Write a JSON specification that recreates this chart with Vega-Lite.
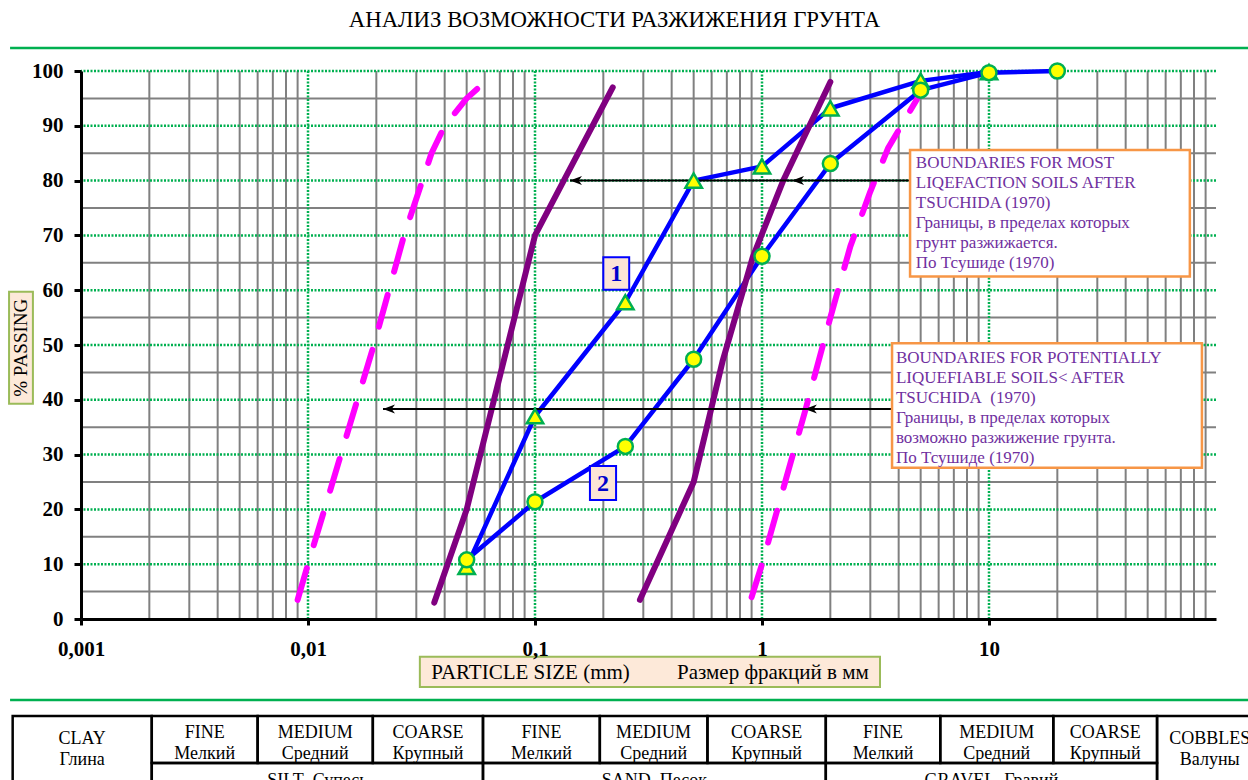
{
  "$schema": "https://vega.github.io/schema/vega-lite/v6.json",
  "width": 1135,
  "height": 548,
  "autosize": {"type": "none"},
  "padding": {"left": 81, "top": 71, "right": 32, "bottom": 161},
  "background": "white",
  "config": {
    "view": {"stroke": null},
    "font": "Liberation Serif",
    "locale": {"number": {"decimal": ",", "thousands": " ", "grouping": [3], "currency": ["", ""]}}
  },
  "title": {
    "text": "АНАЛИЗ ВОЗМОЖНОСТИ РАЗЖИЖЕНИЯ ГРУНТА",
    "anchor": "middle",
    "frame": "group",
    "font": "Liberation Serif",
    "fontSize": 22.8,
    "fontWeight": "normal",
    "color": "black",
    "offset": 15,
    "dx": -34
  },
  "datasets": {
    "gridMinorX": [
      {"d": 0.002}, {"d": 0.003}, {"d": 0.004}, {"d": 0.005}, {"d": 0.006}, {"d": 0.007}, {"d": 0.008}, {"d": 0.009},
      {"d": 0.02}, {"d": 0.03}, {"d": 0.04}, {"d": 0.05}, {"d": 0.06}, {"d": 0.07}, {"d": 0.08}, {"d": 0.09},
      {"d": 0.2}, {"d": 0.3}, {"d": 0.4}, {"d": 0.5}, {"d": 0.6}, {"d": 0.7}, {"d": 0.8}, {"d": 0.9},
      {"d": 2}, {"d": 3}, {"d": 4}, {"d": 5}, {"d": 6}, {"d": 7}, {"d": 8}, {"d": 9},
      {"d": 20}, {"d": 30}, {"d": 40}, {"d": 50}, {"d": 60}, {"d": 70}, {"d": 80}, {"d": 90}
    ],
    "gridMajorX": [{"d": 0.01}, {"d": 0.1}, {"d": 1}, {"d": 10}],
    "gridMinorY": [
      {"p": 5}, {"p": 15}, {"p": 25}, {"p": 35}, {"p": 45}, {"p": 55}, {"p": 65}, {"p": 75}, {"p": 85}, {"p": 95}
    ],
    "gridMajorY": [
      {"p": 10}, {"p": 20}, {"p": 30}, {"p": 40}, {"p": 50}, {"p": 60}, {"p": 70}, {"p": 80}, {"p": 90}, {"p": 100}
    ],
    "frameLines": [
      {"p": 104.2, "from": 0.000487, "to": 250},
      {"p": -14.8, "from": 0.000487, "to": 250}
    ],
    "axisTitles": [
      {"axis": "x", "label": "PARTICLE SIZE (mm)\u00a0\u00a0\u00a0\u00a0\u00a0\u00a0\u00a0\u00a0 Размер фракций в мм", "x1": 0.0311, "x2": 3.31, "y1": -6.9, "y2": -12.4, "cx": 0.321, "cy": -9.65},
      {"axis": "y", "label": "% PASSING", "x1": 0.000482, "x2": 0.000614, "y1": 59.7, "y2": 39.3, "cx": 0.000544, "cy": 49.5}
    ],
    "samples": [
      {"sample": "1", "d": 0.05, "p": 9.5},
      {"sample": "1", "d": 0.1, "p": 37},
      {"sample": "1", "d": 0.25, "p": 57.8},
      {"sample": "1", "d": 0.5, "p": 80},
      {"sample": "1", "d": 1, "p": 82.6},
      {"sample": "1", "d": 2, "p": 93.2},
      {"sample": "1", "d": 5, "p": 98.2},
      {"sample": "1", "d": 10, "p": 99.8},
      {"sample": "2", "d": 0.05, "p": 10.8},
      {"sample": "2", "d": 0.1, "p": 21.4},
      {"sample": "2", "d": 0.25, "p": 31.5},
      {"sample": "2", "d": 0.5, "p": 47.4},
      {"sample": "2", "d": 1, "p": 66.2},
      {"sample": "2", "d": 2, "p": 83.1},
      {"sample": "2", "d": 5, "p": 96.5},
      {"sample": "2", "d": 10, "p": 99.7},
      {"sample": "2", "d": 20, "p": 100}
    ],
    "boundaries": [
      {"kind": "most", "side": "fine", "d": 0.036, "p": 3},
      {"kind": "most", "side": "fine", "d": 0.05, "p": 20},
      {"kind": "most", "side": "fine", "d": 0.1, "p": 70},
      {"kind": "most", "side": "fine", "d": 0.22, "p": 97},
      {"kind": "most", "side": "coarse", "d": 0.29, "p": 3.5},
      {"kind": "most", "side": "coarse", "d": 0.5, "p": 25},
      {"kind": "most", "side": "coarse", "d": 0.67, "p": 47},
      {"kind": "most", "side": "coarse", "d": 0.91, "p": 66},
      {"kind": "most", "side": "coarse", "d": 1.24, "p": 80},
      {"kind": "most", "side": "coarse", "d": 2, "p": 98},
      {"kind": "potential", "side": "fine", "d": 0.009, "p": 3.5},
      {"kind": "potential", "side": "fine", "d": 0.01, "p": 10},
      {"kind": "potential", "side": "fine", "d": 0.0195, "p": 50},
      {"kind": "potential", "side": "fine", "d": 0.0265, "p": 70},
      {"kind": "potential", "side": "fine", "d": 0.035, "p": 85},
      {"kind": "potential", "side": "fine", "d": 0.04, "p": 90},
      {"kind": "potential", "side": "fine", "d": 0.05, "p": 95},
      {"kind": "potential", "side": "fine", "d": 0.062, "p": 98.5},
      {"kind": "potential", "side": "coarse", "d": 0.9, "p": 4},
      {"kind": "potential", "side": "coarse", "d": 1, "p": 10},
      {"kind": "potential", "side": "coarse", "d": 1.55, "p": 38},
      {"kind": "potential", "side": "coarse", "d": 2, "p": 55},
      {"kind": "potential", "side": "coarse", "d": 2.45, "p": 68},
      {"kind": "potential", "side": "coarse", "d": 3, "p": 78},
      {"kind": "potential", "side": "coarse", "d": 3.6, "p": 86},
      {"kind": "potential", "side": "coarse", "d": 5, "p": 96}
    ],
    "arrows": [
      {"kind": "most", "p": 80, "from": 0.1426, "to": 4.49},
      {"kind": "potential", "p": 38.3, "from": 0.0214, "to": 3.74}
    ],
    "arrowHeads": [
      {"kind": "most", "d": 0.1426, "p": 80},
      {"kind": "most", "d": 1.356, "p": 80},
      {"kind": "potential", "d": 0.0214, "p": 38.3},
      {"kind": "potential", "d": 1.545, "p": 38.3}
    ],
    "notes": [
      {"kind": "most", "x1": 4.49, "x2": 76.7, "y1": 85.6, "y2": 62.5, "tx": 4.76, "ty": 82.3,
       "label": "BOUNDARIES FOR MOST\nLIQEFACTION SOILS AFTER\nTSUCHIDA (1970)\nГраницы, в пределах которых\nгрунт разжижается.\nПо Тсушиде (1970)"},
      {"kind": "potential", "x1": 3.74, "x2": 86.7, "y1": 50.3, "y2": 27.6, "tx": 3.89, "ty": 46.8,
       "label": "BOUNDARIES FOR POTENTIALLY\nLIQUEFIABLE SOILS< AFTER\nTSUCHIDA\u00a0 (1970)\nГраницы, в пределах которых\nвозможно разжижение грунта.\nПо Тсушиде (1970)"}
    ],
    "sampleTags": [
      {"sample": "1", "x1": 0.2, "x2": 0.26, "y1": 66, "y2": 60.1, "cx": 0.228, "cy": 63.05},
      {"sample": "2", "x1": 0.1746, "x2": 0.2276, "y1": 27.9, "y2": 21.7, "cx": 0.1993, "cy": 24.8}
    ],
    "tableCells": [
      {"x1": 0.0005, "x2": 0.00205, "y1": -17.7, "y2": -36},
      {"x1": 0.00205, "x2": 0.006, "y1": -17.7, "y2": -26.3},
      {"x1": 0.006, "x2": 0.0193, "y1": -17.7, "y2": -26.3},
      {"x1": 0.0193, "x2": 0.059, "y1": -17.7, "y2": -26.3},
      {"x1": 0.00205, "x2": 0.059, "y1": -26.3, "y2": -36},
      {"x1": 0.059, "x2": 0.193, "y1": -17.7, "y2": -26.3},
      {"x1": 0.193, "x2": 0.575, "y1": -17.7, "y2": -26.3},
      {"x1": 0.575, "x2": 1.91, "y1": -17.7, "y2": -26.3},
      {"x1": 0.059, "x2": 1.91, "y1": -26.3, "y2": -36},
      {"x1": 1.91, "x2": 6.1, "y1": -17.7, "y2": -26.3},
      {"x1": 6.1, "x2": 19.2, "y1": -17.7, "y2": -26.3},
      {"x1": 19.2, "x2": 55, "y1": -17.7, "y2": -26.3},
      {"x1": 1.91, "x2": 55, "y1": -26.3, "y2": -36},
      {"x1": 55, "x2": 160, "y1": -17.7, "y2": -36}
    ],
    "tableLabels": [
      {"level": "span", "label": "CLAY\nГлина", "mid": 0.001012},
      {"level": "sub", "label": "FINE\nМелкий", "mid": 0.003507},
      {"level": "sub", "label": "MEDIUM\nСредний", "mid": 0.01076},
      {"level": "sub", "label": "COARSE\nКрупный", "mid": 0.03374},
      {"level": "group", "label": "SILT\u00a0 Супесь", "mid": 0.011},
      {"level": "sub", "label": "FINE\nМелкий", "mid": 0.1067},
      {"level": "sub", "label": "MEDIUM\nСредний", "mid": 0.3331},
      {"level": "sub", "label": "COARSE\nКрупный", "mid": 1.048},
      {"level": "group", "label": "SAND\u00a0 Песок", "mid": 0.3357},
      {"level": "sub", "label": "FINE\nМелкий", "mid": 3.413},
      {"level": "sub", "label": "MEDIUM\nСредний", "mid": 10.82},
      {"level": "sub", "label": "COARSE\nКрупный", "mid": 32.5},
      {"level": "group", "label": "GRAVEL\u00a0 Гравий", "mid": 10.25},
      {"level": "span", "label": "COBBLES\nВалуны", "mid": 93.8}
    ]
  },
  "layer": [
    {
      "data": {"name": "gridMinorY"},
      "mark": {"type": "rule", "color": "#808080", "strokeWidth": 2},
      "encoding": {
        "y": {"field": "p", "type": "quantitative", "scale": {"domain": [0, 100]}, "title": null}
      }
    },
    {
      "data": {"name": "gridMinorX"},
      "mark": {"type": "rule", "color": "#808080", "strokeWidth": 2},
      "encoding": {
        "x": {"field": "d", "type": "quantitative", "scale": {"type": "log", "domain": [0.001, 100]}, "title": null}
      }
    },
    {
      "data": {"name": "gridMajorY"},
      "mark": {"type": "rule", "color": "#00B050", "strokeWidth": 2.5, "strokeDash": [2, 1.5]},
      "encoding": {
        "y": {"field": "p", "type": "quantitative", "scale": {"domain": [0, 100]}, "title": null}
      }
    },
    {
      "data": {"name": "gridMajorX"},
      "mark": {"type": "rule", "color": "#00B050", "strokeWidth": 2.5, "strokeDash": [2, 1.5]},
      "encoding": {
        "x": {"field": "d", "type": "quantitative", "scale": {"type": "log", "domain": [0.001, 100]}, "title": null}
      }
    },
    {
      "data": {"name": "frameLines"},
      "mark": {"type": "rule", "color": "#00B050", "strokeWidth": 2.5},
      "encoding": {
        "x": {"field": "from", "type": "quantitative", "scale": {"type": "log", "domain": [0.001, 100]}, "title": null},
        "x2": {"field": "to"},
        "y": {"field": "p", "type": "quantitative", "scale": {"domain": [0, 100]}, "title": null}
      }
    },
    {
      "data": {"name": "axisTitles"},
      "mark": {"type": "rect", "fill": "#FDE9D9", "stroke": "#9BBB59", "strokeWidth": 2},
      "encoding": {
        "x": {"field": "x1", "type": "quantitative", "scale": {"type": "log", "domain": [0.001, 100]}, "title": null},
        "x2": {"field": "x2"},
        "y": {"field": "y1", "type": "quantitative", "scale": {"domain": [0, 100]}, "title": null},
        "y2": {"field": "y2"}
      }
    },
    {
      "data": {"name": "axisTitles"},
      "transform": [{"filter": "datum.axis === 'x'"}],
      "mark": {"type": "text", "font": "Liberation Serif", "fontSize": 21, "color": "black", "align": "center", "baseline": "middle", "dy": 1},
      "encoding": {
        "x": {"field": "cx", "type": "quantitative", "scale": {"type": "log", "domain": [0.001, 100]}, "title": null},
        "y": {"field": "cy", "type": "quantitative", "scale": {"domain": [0, 100]}, "title": null},
        "text": {"field": "label"}
      }
    },
    {
      "data": {"name": "axisTitles"},
      "transform": [{"filter": "datum.axis === 'y'"}],
      "mark": {"type": "text", "font": "Liberation Serif", "fontSize": 19, "color": "black", "align": "center", "baseline": "middle", "angle": 270},
      "encoding": {
        "x": {"field": "cx", "type": "quantitative", "scale": {"type": "log", "domain": [0.001, 100]}, "title": null},
        "y": {"field": "cy", "type": "quantitative", "scale": {"domain": [0, 100]}, "title": null},
        "text": {"field": "label"}
      }
    },
    {
      "data": {"name": "tableCells"},
      "mark": {"type": "rect", "filled": false, "stroke": "black", "strokeWidth": 2.5},
      "encoding": {
        "x": {"field": "x1", "type": "quantitative", "scale": {"type": "log", "domain": [0.001, 100]}, "title": null},
        "x2": {"field": "x2"},
        "y": {"field": "y1", "type": "quantitative", "scale": {"domain": [0, 100]}, "title": null},
        "y2": {"field": "y2"}
      }
    },
    {
      "data": {"name": "tableLabels"},
      "transform": [{"filter": "datum.level === 'sub'"}],
      "mark": {"type": "text", "font": "Liberation Serif", "fontSize": 18, "color": "black", "align": "center", "baseline": "alphabetic", "lineBreak": "\n", "lineHeight": 21},
      "encoding": {
        "x": {"field": "mid", "type": "quantitative", "scale": {"type": "log", "domain": [0.001, 100]}, "title": null},
        "y": {"datum": -21.7, "type": "quantitative", "scale": {"domain": [0, 100]}, "title": null},
        "text": {"field": "label"}
      }
    },
    {
      "data": {"name": "tableLabels"},
      "transform": [{"filter": "datum.level === 'span'"}],
      "mark": {"type": "text", "font": "Liberation Serif", "fontSize": 18, "color": "black", "align": "center", "baseline": "alphabetic", "lineBreak": "\n", "lineHeight": 21},
      "encoding": {
        "x": {"field": "mid", "type": "quantitative", "scale": {"type": "log", "domain": [0.001, 100]}, "title": null},
        "y": {"datum": -22.9, "type": "quantitative", "scale": {"domain": [0, 100]}, "title": null},
        "text": {"field": "label"}
      }
    },
    {
      "data": {"name": "tableLabels"},
      "transform": [{"filter": "datum.level === 'group'"}],
      "mark": {"type": "text", "font": "Liberation Serif", "fontSize": 18, "color": "black", "align": "center", "baseline": "alphabetic"},
      "encoding": {
        "x": {"field": "mid", "type": "quantitative", "scale": {"type": "log", "domain": [0.001, 100]}, "title": null},
        "y": {"datum": -30.5, "type": "quantitative", "scale": {"domain": [0, 100]}, "title": null},
        "text": {"field": "label"}
      }
    },
    {
      "data": {"name": "samples"},
      "mark": {"type": "line", "color": "#0000FF", "strokeWidth": 4.5, "strokeCap": "round", "strokeJoin": "round"},
      "encoding": {
        "x": {
          "field": "d", "type": "quantitative", "scale": {"type": "log", "domain": [0.001, 100]}, "title": null,
          "axis": {
            "values": [0.001, 0.01, 0.1, 1, 10],
            "format": "~g",
            "title": null, "grid": false, "zindex": 1,
            "domainColor": "black", "domainWidth": 3,
            "tickColor": "black", "tickWidth": 3, "tickSize": 6,
            "labelFont": "Liberation Serif", "labelFontSize": 21, "labelFontWeight": "bold",
            "labelColor": "black", "labelPadding": 13, "labelFlush": false
          }
        },
        "y": {
          "field": "p", "type": "quantitative", "scale": {"domain": [0, 100]}, "title": null,
          "axis": {
            "values": [0, 10, 20, 30, 40, 50, 60, 70, 80, 90, 100],
            "title": null, "grid": false, "zindex": 1,
            "domainColor": "black", "domainWidth": 3,
            "tickColor": "black", "tickWidth": 3, "tickSize": 7,
            "labelFont": "Liberation Serif", "labelFontSize": 21, "labelFontWeight": "bold",
            "labelColor": "black", "labelPadding": 11, "labelFlush": false
          }
        },
        "detail": {"field": "sample"}
      }
    },
    {
      "data": {"name": "boundaries"},
      "transform": [{"filter": "datum.kind === 'most'"}],
      "mark": {"type": "line", "color": "#800080", "strokeWidth": 6, "strokeCap": "round", "strokeJoin": "round"},
      "encoding": {
        "x": {"field": "d", "type": "quantitative", "scale": {"type": "log", "domain": [0.001, 100]}, "title": null},
        "y": {"field": "p", "type": "quantitative", "scale": {"domain": [0, 100]}, "title": null},
        "detail": {"field": "side"}
      }
    },
    {
      "data": {"name": "boundaries"},
      "transform": [{"filter": "datum.kind === 'potential'"}],
      "mark": {"type": "line", "color": "#FF00FF", "strokeWidth": 6, "strokeCap": "round", "strokeJoin": "round", "strokeDash": [33, 24]},
      "encoding": {
        "x": {"field": "d", "type": "quantitative", "scale": {"type": "log", "domain": [0.001, 100]}, "title": null},
        "y": {"field": "p", "type": "quantitative", "scale": {"domain": [0, 100]}, "title": null},
        "detail": {"field": "side"}
      }
    },
    {
      "data": {"name": "arrows"},
      "mark": {"type": "rule", "color": "black", "strokeWidth": 2},
      "encoding": {
        "x": {"field": "from", "type": "quantitative", "scale": {"type": "log", "domain": [0.001, 100]}, "title": null},
        "x2": {"field": "to"},
        "y": {"field": "p", "type": "quantitative", "scale": {"domain": [0, 100]}, "title": null}
      }
    },
    {
      "data": {"name": "arrowHeads"},
      "mark": {"type": "point", "shape": "M0,0 L2,-0.75 L1.45,0 L2,0.75 Z", "filled": true, "color": "black", "size": 144, "opacity": 1},
      "encoding": {
        "x": {"field": "d", "type": "quantitative", "scale": {"type": "log", "domain": [0.001, 100]}, "title": null},
        "y": {"field": "p", "type": "quantitative", "scale": {"domain": [0, 100]}, "title": null}
      }
    },
    {
      "data": {"name": "samples"},
      "transform": [{"filter": "datum.sample === '1'"}],
      "mark": {"type": "point", "shape": "triangle-up", "filled": true, "fill": "#FFFF00", "stroke": "#00B050", "strokeWidth": 2.5, "size": 270, "opacity": 1},
      "encoding": {
        "x": {"field": "d", "type": "quantitative", "scale": {"type": "log", "domain": [0.001, 100]}, "title": null},
        "y": {"field": "p", "type": "quantitative", "scale": {"domain": [0, 100]}, "title": null}
      }
    },
    {
      "data": {"name": "samples"},
      "transform": [{"filter": "datum.sample === '2'"}],
      "mark": {"type": "point", "shape": "circle", "filled": true, "fill": "#FFFF00", "stroke": "#00B050", "strokeWidth": 2.5, "size": 225, "opacity": 1},
      "encoding": {
        "x": {"field": "d", "type": "quantitative", "scale": {"type": "log", "domain": [0.001, 100]}, "title": null},
        "y": {"field": "p", "type": "quantitative", "scale": {"domain": [0, 100]}, "title": null}
      }
    },
    {
      "data": {"name": "notes"},
      "mark": {"type": "rect", "fill": "white", "stroke": "#F79646", "strokeWidth": 2.5},
      "encoding": {
        "x": {"field": "x1", "type": "quantitative", "scale": {"type": "log", "domain": [0.001, 100]}, "title": null},
        "x2": {"field": "x2"},
        "y": {"field": "y1", "type": "quantitative", "scale": {"domain": [0, 100]}, "title": null},
        "y2": {"field": "y2"}
      }
    },
    {
      "data": {"name": "notes"},
      "mark": {"type": "text", "font": "Liberation Serif", "fontSize": 17, "color": "#7030A0", "align": "left", "baseline": "alphabetic", "lineBreak": "\n", "lineHeight": 20},
      "encoding": {
        "x": {"field": "tx", "type": "quantitative", "scale": {"type": "log", "domain": [0.001, 100]}, "title": null},
        "y": {"field": "ty", "type": "quantitative", "scale": {"domain": [0, 100]}, "title": null},
        "text": {"field": "label"}
      }
    },
    {
      "data": {"name": "sampleTags"},
      "mark": {"type": "rect", "fill": "#FCE4D6", "stroke": "#0000FF", "strokeWidth": 2},
      "encoding": {
        "x": {"field": "x1", "type": "quantitative", "scale": {"type": "log", "domain": [0.001, 100]}, "title": null},
        "x2": {"field": "x2"},
        "y": {"field": "y1", "type": "quantitative", "scale": {"domain": [0, 100]}, "title": null},
        "y2": {"field": "y2"}
      }
    },
    {
      "data": {"name": "sampleTags"},
      "mark": {"type": "text", "font": "Liberation Serif", "fontSize": 24, "fontWeight": "bold", "color": "#0000CC", "align": "center", "baseline": "middle", "dy": 1},
      "encoding": {
        "x": {"field": "cx", "type": "quantitative", "scale": {"type": "log", "domain": [0.001, 100]}, "title": null},
        "y": {"field": "cy", "type": "quantitative", "scale": {"domain": [0, 100]}, "title": null},
        "text": {"field": "sample"}
      }
    }
  ]
}
